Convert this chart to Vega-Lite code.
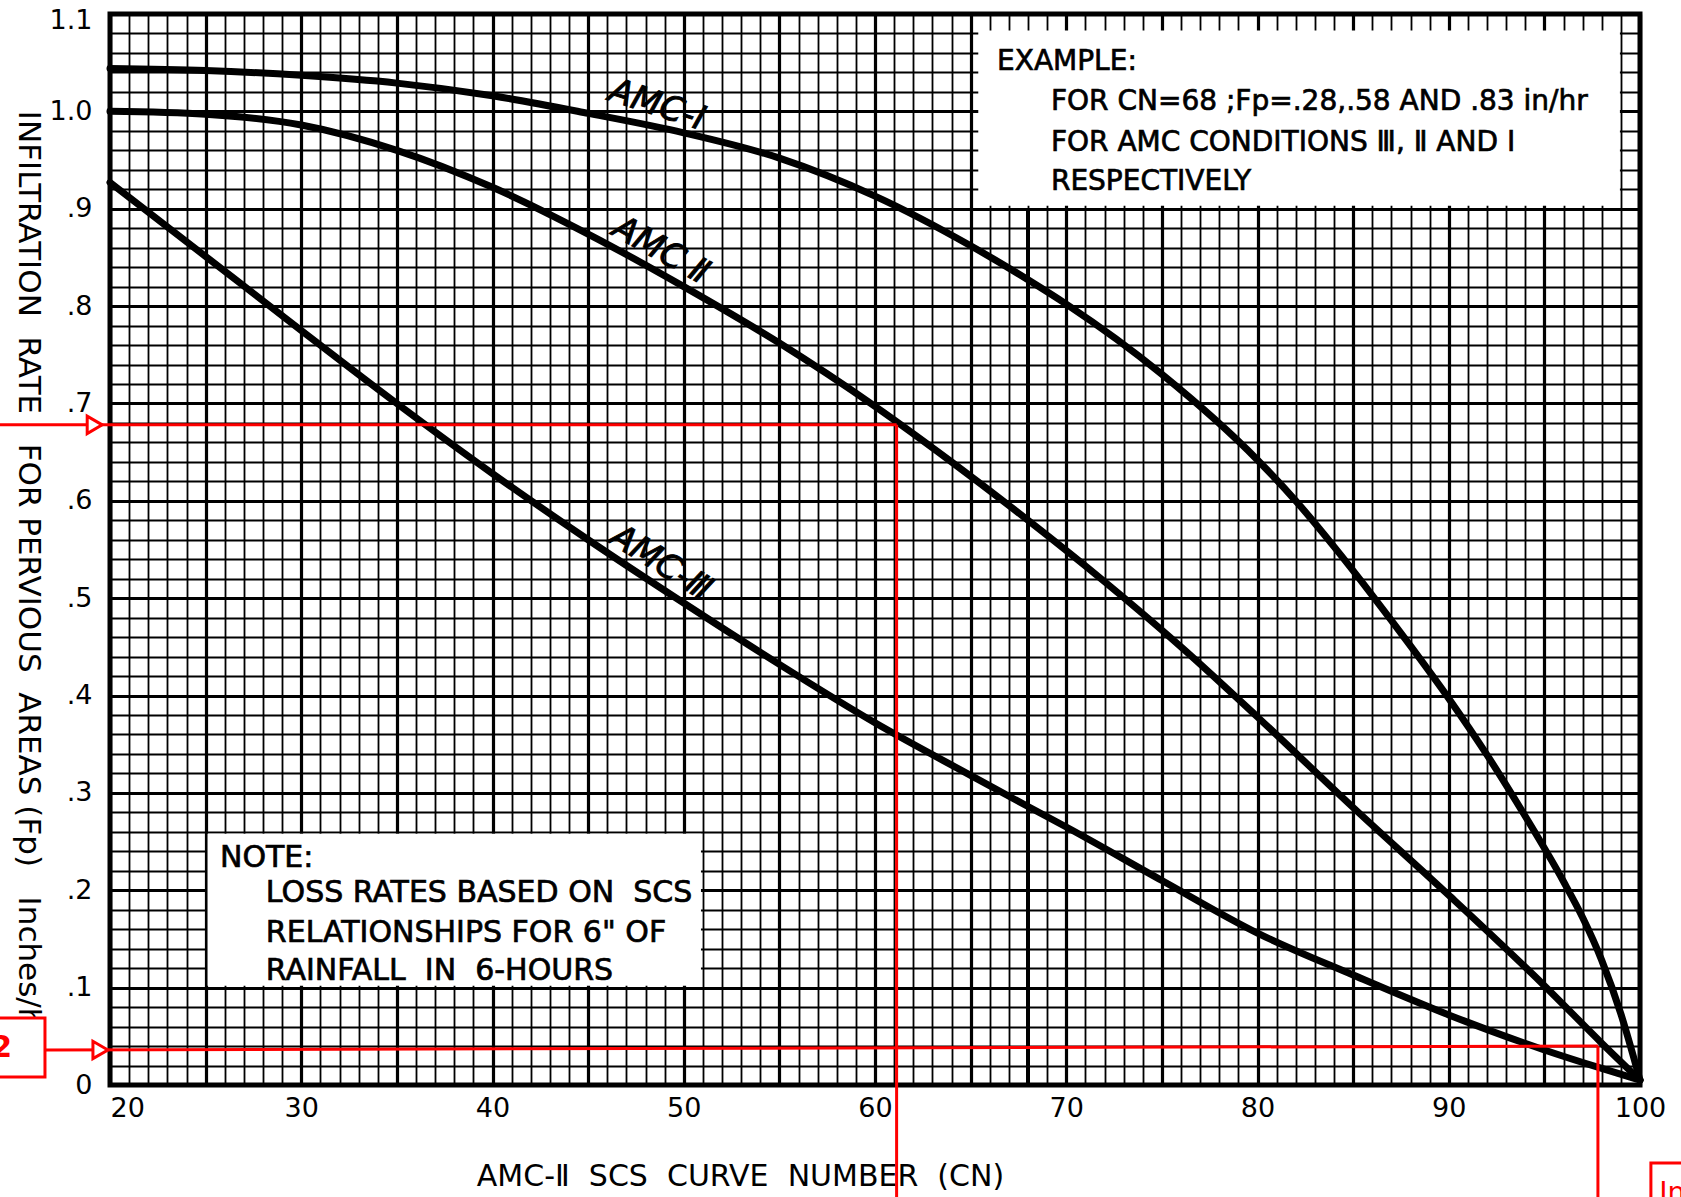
{
  "$schema": "https://vega.github.io/schema/vega-lite/v6.json",
  "width": 1530,
  "height": 1071,
  "autosize": {"type": "none"},
  "padding": {"left": 110, "top": 14, "right": 41, "bottom": 112},
  "background": "white",
  "config": {"view": {"stroke": "black", "strokeWidth": 5}, "font": "DejaVu Sans"},
  "datasets": {
    "curves": [
      {"curve": "AMC-I", "cn": 20, "fp": 1.044},
      {"curve": "AMC-I", "cn": 25, "fp": 1.042},
      {"curve": "AMC-I", "cn": 30, "fp": 1.037},
      {"curve": "AMC-I", "cn": 35, "fp": 1.029},
      {"curve": "AMC-I", "cn": 40, "fp": 1.016},
      {"curve": "AMC-I", "cn": 45, "fp": 0.998},
      {"curve": "AMC-I", "cn": 50, "fp": 0.978},
      {"curve": "AMC-I", "cn": 55, "fp": 0.952},
      {"curve": "AMC-I", "cn": 60, "fp": 0.913},
      {"curve": "AMC-I", "cn": 65, "fp": 0.862},
      {"curve": "AMC-I", "cn": 68, "fp": 0.827},
      {"curve": "AMC-I", "cn": 70, "fp": 0.802},
      {"curve": "AMC-I", "cn": 75, "fp": 0.73},
      {"curve": "AMC-I", "cn": 80, "fp": 0.642},
      {"curve": "AMC-I", "cn": 82, "fp": 0.6},
      {"curve": "AMC-I", "cn": 84, "fp": 0.553},
      {"curve": "AMC-I", "cn": 86, "fp": 0.503},
      {"curve": "AMC-I", "cn": 88, "fp": 0.451},
      {"curve": "AMC-I", "cn": 90, "fp": 0.397},
      {"curve": "AMC-I", "cn": 92, "fp": 0.339},
      {"curve": "AMC-I", "cn": 94, "fp": 0.276},
      {"curve": "AMC-I", "cn": 96, "fp": 0.209},
      {"curve": "AMC-I", "cn": 97, "fp": 0.172},
      {"curve": "AMC-I", "cn": 98, "fp": 0.128},
      {"curve": "AMC-I", "cn": 99, "fp": 0.073},
      {"curve": "AMC-I", "cn": 100, "fp": 0.005},
      {"curve": "AMC-II", "cn": 20, "fp": 1.0},
      {"curve": "AMC-II", "cn": 25, "fp": 0.997},
      {"curve": "AMC-II", "cn": 30, "fp": 0.986},
      {"curve": "AMC-II", "cn": 35, "fp": 0.96},
      {"curve": "AMC-II", "cn": 40, "fp": 0.922},
      {"curve": "AMC-II", "cn": 45, "fp": 0.874},
      {"curve": "AMC-II", "cn": 50, "fp": 0.82},
      {"curve": "AMC-II", "cn": 55, "fp": 0.762},
      {"curve": "AMC-II", "cn": 60, "fp": 0.697},
      {"curve": "AMC-II", "cn": 64, "fp": 0.64},
      {"curve": "AMC-II", "cn": 68, "fp": 0.58},
      {"curve": "AMC-II", "cn": 72, "fp": 0.517},
      {"curve": "AMC-II", "cn": 76, "fp": 0.45},
      {"curve": "AMC-II", "cn": 80, "fp": 0.378},
      {"curve": "AMC-II", "cn": 85, "fp": 0.285},
      {"curve": "AMC-II", "cn": 90, "fp": 0.195},
      {"curve": "AMC-II", "cn": 95, "fp": 0.102},
      {"curve": "AMC-II", "cn": 98, "fp": 0.043},
      {"curve": "AMC-II", "cn": 100, "fp": 0.005},
      {"curve": "AMC-III", "cn": 20, "fp": 0.927},
      {"curve": "AMC-III", "cn": 25, "fp": 0.851},
      {"curve": "AMC-III", "cn": 30, "fp": 0.775},
      {"curve": "AMC-III", "cn": 35, "fp": 0.7},
      {"curve": "AMC-III", "cn": 40, "fp": 0.628},
      {"curve": "AMC-III", "cn": 45, "fp": 0.56},
      {"curve": "AMC-III", "cn": 50, "fp": 0.495},
      {"curve": "AMC-III", "cn": 55, "fp": 0.432},
      {"curve": "AMC-III", "cn": 60, "fp": 0.372},
      {"curve": "AMC-III", "cn": 65, "fp": 0.318},
      {"curve": "AMC-III", "cn": 68, "fp": 0.286},
      {"curve": "AMC-III", "cn": 70, "fp": 0.265},
      {"curve": "AMC-III", "cn": 75, "fp": 0.21},
      {"curve": "AMC-III", "cn": 80, "fp": 0.156},
      {"curve": "AMC-III", "cn": 85, "fp": 0.113},
      {"curve": "AMC-III", "cn": 90, "fp": 0.072},
      {"curve": "AMC-III", "cn": 95, "fp": 0.036},
      {"curve": "AMC-III", "cn": 98, "fp": 0.017},
      {"curve": "AMC-III", "cn": 100, "fp": 0.005}
    ],
    "refLines": [
      {"cn": 68, "fp": 0, "fp2": 0.9}
    ],
    "boxes": [
      {"box": "example", "cn": 65.4, "cn2": 98.95, "fp": 0.903, "fp2": 1.083},
      {"box": "note", "cn": 25.1, "cn2": 50.9, "fp": 0.102, "fp2": 0.258}
    ],
    "notes": [
      {"box": "example", "cn": 66.38, "fp": 1.051, "text": "EXAMPLE:"},
      {"box": "example", "cn": 69.2, "fp": 1.01, "text": "FOR CN=68 ;Fp=.28,.58 AND .83 in/hr"},
      {"box": "example", "cn": 69.2, "fp": 0.967, "text": "FOR AMC CONDITIONS Ⅲ, Ⅱ AND Ⅰ"},
      {"box": "example", "cn": 69.2, "fp": 0.927, "text": "RESPECTIVELY"},
      {"box": "note", "cn": 25.75, "fp": 0.233, "text": "NOTE:"},
      {"box": "note", "cn": 28.15, "fp": 0.197, "text": "LOSS RATES BASED ON\u00a0 SCS"},
      {"box": "note", "cn": 28.15, "fp": 0.156, "text": "RELATIONSHIPS FOR 6\" OF"},
      {"box": "note", "cn": 28.15, "fp": 0.117, "text": "RAINFALL\u00a0 IN\u00a0 6-HOURS"}
    ],
    "curveLabels": [
      {"curve": "AMC-I", "cn": 48.6, "fp": 1.006, "text": "AMC-Ⅰ"},
      {"curve": "AMC-II", "cn": 48.8, "fp": 0.857, "text": "AMC Ⅱ"},
      {"curve": "AMC-III", "cn": 48.8, "fp": 0.536, "text": "AMC-Ⅲ"}
    ],
    "redLines": [
      {"cn": 14, "cn2": 61.13, "fp": 0.678, "fp2": 0.678},
      {"cn": 61.13, "cn2": 61.13, "fp": 0.678, "fp2": -0.13},
      {"cn": 16.6, "cn2": 97.8, "fp": 0.036, "fp2": 0.04},
      {"cn": 97.8, "cn2": 97.8, "fp": 0.04, "fp2": -0.13}
    ],
    "redBoxes": [
      {"cn": 13.5, "cn2": 16.6, "fp": 0.0082, "fp2": 0.0688},
      {"cn": 100.57, "cn2": 103.5, "fp": -0.13, "fp2": -0.08}
    ],
    "arrows": [
      {"cn": 19.2, "fp": 0.678},
      {"cn": 19.5, "fp": 0.036}
    ],
    "redTexts": [
      {"cn": 14.88, "fp": 0.038, "text": "2", "pos": "left"},
      {"cn": 101.0, "fp": -0.0976, "text": "In", "pos": "right"}
    ]
  },
  "encoding": {
    "x": {
      "field": "cn", "type": "quantitative",
      "scale": {"domain": [20, 100], "nice": false, "zero": false},
      "axis": {
        "values": [20,21,22,23,24,25,26,27,28,29,30,31,32,33,34,35,36,37,38,39,40,41,42,43,44,45,46,47,48,49,50,51,52,53,54,55,56,57,58,59,60,61,62,63,64,65,66,67,68,69,70,71,72,73,74,75,76,77,78,79,80,81,82,83,84,85,86,87,88,89,90,91,92,93,94,95,96,97,98,99,100],
        "grid": true,
        "gridColor": "black",
        "gridOpacity": 1,
        "gridWidth": {"condition": {"test": "datum.value % 5 === 0", "value": 3.2}, "value": 1.8},
        "ticks": false,
        "domain": false,
        "labelExpr": "datum.value % 10 === 0 ? datum.label : ''",
        "labelAlign": {"condition": {"test": "datum.value === 20", "value": "left"}, "value": "center"},
        "labelOverlap": false,
        "labelFont": "DejaVu Sans",
        "labelFontSize": 27,
        "labelColor": "black",
        "labelPadding": 10,
        "title": "AMC-Ⅱ\u00a0 SCS\u00a0 CURVE\u00a0 NUMBER\u00a0 (CN)",
        "titleFont": "DejaVu Sans",
        "titleFontSize": 30,
        "titleFontWeight": "normal",
        "titleColor": "black",
        "titleX": 630,
        "titleY": 91,
        "titleAlign": "center",
        "titleBaseline": "middle"
      }
    },
    "y": {
      "field": "fp", "type": "quantitative",
      "scale": {"domain": [0, 1.1], "nice": false, "zero": false},
      "axis": {
        "values": [0,0.02,0.04,0.06,0.08,0.1,0.12,0.14,0.16,0.18,0.2,0.22,0.24,0.26,0.28,0.3,0.32,0.34,0.36,0.38,0.4,0.42,0.44,0.46,0.48,0.5,0.52,0.54,0.56,0.58,0.6,0.62,0.64,0.66,0.68,0.7,0.72,0.74,0.76,0.78,0.8,0.82,0.84,0.86,0.88,0.9,0.92,0.94,0.96,0.98,1,1.02,1.04,1.06,1.08,1.1],
        "grid": true,
        "gridColor": "black",
        "gridOpacity": 1,
        "gridWidth": {"condition": {"test": "abs(datum.value*10 - round(datum.value*10)) < 0.001", "value": 3.2}, "value": 1.8},
        "ticks": false,
        "domain": false,
        "labelExpr": "abs(datum.value*10 - round(datum.value*10)) < 0.001 ? (datum.value < 0.001 ? '0' : (datum.value > 0.999 ? format(datum.value, '.1f') : replace(format(datum.value, '.1f'), '0.', '.'))) : ''",
        "labelOffset": {"condition": {"test": "datum.value > 1.09", "value": 6}, "value": 0},
        "labelOverlap": false,
        "labelFont": "DejaVu Sans",
        "labelFontSize": 27,
        "labelColor": "black",
        "labelPadding": 18,
        "title": "INFILTRATION\u00a0 RATE\u00a0 \u00a0FOR PERVIOUS\u00a0 AREAS (Fp)\u00a0 \u00a0Inches/hr",
        "titleFont": "DejaVu Sans",
        "titleFontSize": 31,
        "titleFontWeight": "normal",
        "titleColor": "black",
        "titleAngle": 90,
        "titleX": -83,
        "titleY": 561,
        "titleAlign": "center",
        "titleBaseline": "middle"
      }
    }
  },
  "layer": [
    {
      "data": {"name": "curves"},
      "mark": {"type": "line", "interpolate": "monotone", "color": "black", "strokeWidth": 7, "strokeCap": "round"},
      "encoding": {"detail": {"field": "curve"}}
    },
    {
      "data": {"name": "refLines"},
      "mark": {"type": "rule", "color": "black", "strokeWidth": 4},
      "encoding": {"y2": {"field": "fp2"}}
    },
    {
      "data": {"name": "boxes"},
      "mark": {"type": "rect", "fill": "white", "strokeWidth": 0},
      "encoding": {"x2": {"field": "cn2"}, "y2": {"field": "fp2"}}
    },
    {
      "data": {"name": "notes"},
      "transform": [{"filter": "datum.box === 'example'"}],
      "mark": {"type": "text", "align": "left", "baseline": "middle", "font": "DejaVu Sans", "fontSize": 28, "color": "black", "stroke": "black", "strokeWidth": 0.7},
      "encoding": {"text": {"field": "text"}}
    },
    {
      "data": {"name": "notes"},
      "transform": [{"filter": "datum.box === 'note'"}],
      "mark": {"type": "text", "align": "left", "baseline": "middle", "font": "DejaVu Sans", "fontSize": 30, "color": "black", "stroke": "black", "strokeWidth": 0.7},
      "encoding": {"text": {"field": "text"}}
    },
    {
      "data": {"name": "curveLabels"},
      "transform": [{"filter": "datum.curve === 'AMC-I'"}],
      "mark": {"type": "text", "align": "center", "baseline": "middle", "font": "DejaVu Sans", "fontSize": 34, "fontStyle": "italic", "angle": 18, "color": "black", "stroke": "black", "strokeWidth": 0.9},
      "encoding": {"text": {"field": "text"}}
    },
    {
      "data": {"name": "curveLabels"},
      "transform": [{"filter": "datum.curve === 'AMC-II'"}],
      "mark": {"type": "text", "align": "center", "baseline": "middle", "font": "DejaVu Sans", "fontSize": 34, "fontStyle": "italic", "angle": 29, "color": "black", "stroke": "black", "strokeWidth": 0.9},
      "encoding": {"text": {"field": "text"}}
    },
    {
      "data": {"name": "curveLabels"},
      "transform": [{"filter": "datum.curve === 'AMC-III'"}],
      "mark": {"type": "text", "align": "center", "baseline": "middle", "font": "DejaVu Sans", "fontSize": 34, "fontStyle": "italic", "angle": 32, "color": "black", "stroke": "black", "strokeWidth": 0.9},
      "encoding": {"text": {"field": "text"}}
    },
    {
      "data": {"name": "redLines"},
      "mark": {"type": "rule", "color": "#ff0000", "strokeWidth": 3},
      "encoding": {"x2": {"field": "cn2"}, "y2": {"field": "fp2"}}
    },
    {
      "data": {"name": "redBoxes"},
      "mark": {"type": "rect", "fill": "white", "stroke": "#ff0000", "strokeWidth": 3},
      "encoding": {"x2": {"field": "cn2"}, "y2": {"field": "fp2"}}
    },
    {
      "data": {"name": "arrows"},
      "mark": {"type": "point", "shape": "triangle-right", "filled": true, "fill": "white", "stroke": "#ff0000", "strokeWidth": 3, "size": 300, "opacity": 1}
    },
    {
      "data": {"name": "redTexts"},
      "transform": [{"filter": "datum.pos === 'left'"}],
      "mark": {"type": "text", "align": "right", "baseline": "middle", "font": "DejaVu Sans", "fontSize": 30, "fontWeight": "bold", "color": "#ff0000"},
      "encoding": {"text": {"field": "text"}}
    },
    {
      "data": {"name": "redTexts"},
      "transform": [{"filter": "datum.pos === 'right'"}],
      "mark": {"type": "text", "align": "left", "baseline": "top", "font": "DejaVu Sans", "fontSize": 28, "color": "#ff0000"},
      "encoding": {"text": {"field": "text"}}
    }
  ]
}
